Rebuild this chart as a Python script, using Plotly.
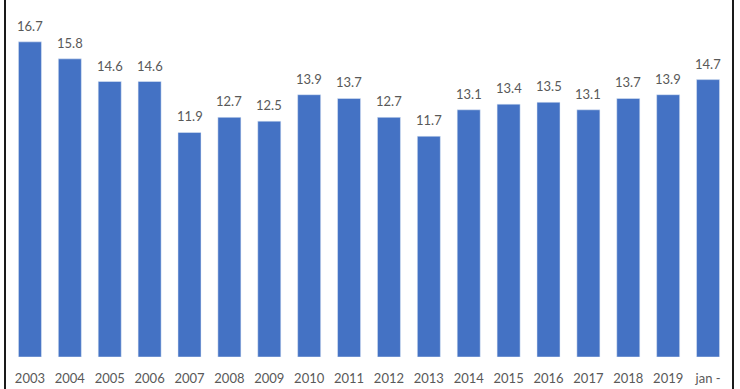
import plotly.graph_objects as go

categories = ["2003", "2004", "2005", "2006", "2007", "2008", "2009", "2010", "2011",
              "2012", "2013", "2014", "2015", "2016", "2017", "2018", "2019", "jan -"]
values = [16.7, 15.8, 14.6, 14.6, 11.9, 12.7, 12.5, 13.9, 13.7,
          12.7, 11.7, 13.1, 13.4, 13.5, 13.1, 13.7, 13.9, 14.7]
labels = [f"{v:.1f}" for v in values]

BAR = "#4472C4"
TXT = "#595959"
FONT = "Lato"

fig = go.Figure(go.Bar(x=categories, y=values, marker_color=BAR, hoverinfo="x+y"))

for i, (v, t) in enumerate(zip(values, labels)):
    fig.add_annotation(x=i, y=v, text=t, showarrow=False, yanchor="bottom",
                       yshift=6, font=dict(family=FONT, size=13, color=TXT))

L, R, T, B = 10, 12, 0, 32
W = 740 - L - R
H = 389 - T - B

# outer frame lines (cropped screenshot border)
for px in (5, 733):
    xp = (px - L) / W
    fig.add_shape(type="line", xref="paper", yref="paper", x0=xp, x1=xp,
                  y0=-B / H - 0.01, y1=1.01, line=dict(color="#1a1a1a", width=2))

fig.update_layout(
    width=740, height=389,
    margin=dict(l=L, r=R, t=T, b=B),
    paper_bgcolor="white", plot_bgcolor="white",
    bargap=0.423,
    showlegend=False,
    font=dict(family=FONT, size=13, color=TXT),
)
fig.update_xaxes(type="category", range=[-0.5, 17.5], showgrid=False, showline=False,
                 ticks="", tickfont=dict(family=FONT, size=13, color=TXT),
                 ticklabelstandoff=12, fixedrange=True)
fig.update_yaxes(range=[0, H / 18.87], visible=False, showgrid=False, fixedrange=True)

fig.write_html("out.html", config={"displayModeBar": False})
